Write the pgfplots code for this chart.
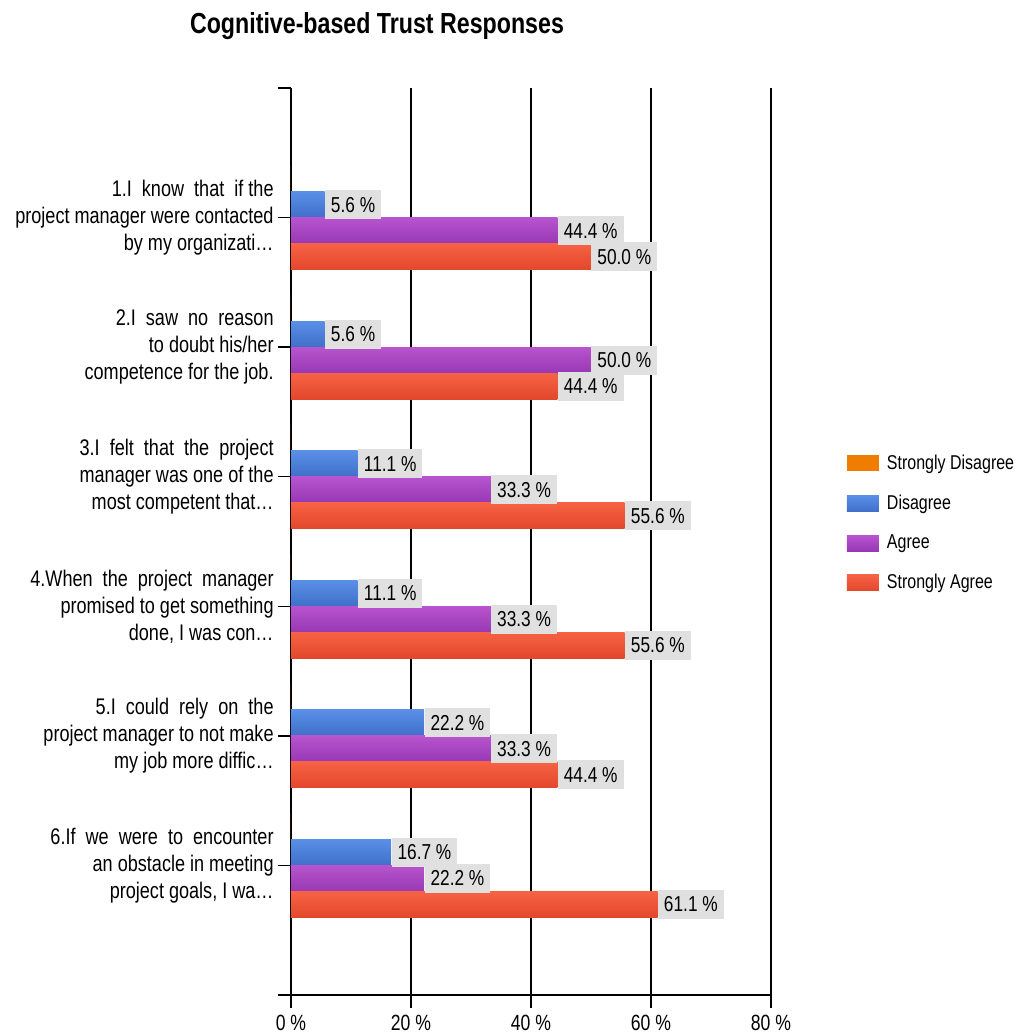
\documentclass[border=0pt]{standalone}
\usepackage{fontspec}
\setmainfont{Liberation Sans}[FakeStretch=0.8]
\usepackage{pgfplots}
\pgfplotsset{compat=1.18}
\definecolor{sdcol}{HTML}{F07C00}
\definecolor{dtop}{HTML}{5A8FE8}
\definecolor{dbot}{HTML}{3F6FC9}
\definecolor{atop}{HTML}{B754CE}
\definecolor{abot}{HTML}{9838B4}
\definecolor{stop}{HTML}{F76244}
\definecolor{sbot}{HTML}{E2472C}
\definecolor{lblgray}{HTML}{E0E0E0}
\pgfplotsset{
  lbl/.style={nodes near coords={\pgfmathprintnumber[fixed,precision=1,fixed zerofill,assume math mode=true]{\pgfplotspointmeta}\hspace{0.22em}\%}},
  dser/.style={draw=none, top color=dtop, bottom color=dbot, bar shift=6.5pt, lbl},
  aser/.style={draw=none, top color=atop, bottom color=abot, bar shift=-6.5pt, lbl},
  sser/.style={draw=none, top color=stop, bottom color=sbot, bar shift=-19.5pt, lbl},
}
\begin{document}
\begin{tikzpicture}
\path[use as bounding box] (-145.5pt,-20.5pt) rectangle (365pt,497.5pt);
\begin{axis}[
  at={(0pt,0pt)}, anchor=south west,
  scale only axis, width=240pt, height=453.5pt,
  xbar, bar width=13pt,
  xmin=0, xmax=80, ymin=0, ymax=7,
  xtick={0,20,40,60,80},
  xticklabels={0\hspace{0.22em}\%,20\hspace{0.22em}\%,40\hspace{0.22em}\%,60\hspace{0.22em}\%,80\hspace{0.22em}\%},
  ytick={1,2,3,4,5,6},
  yticklabels={
    {6.If\ \ we\ \ were\ \ to\ \ encounter\\an obstacle in meeting\\project goals, I wa\ldots},
    {5.I\ \ could\ \ rely\ \ on\ \ the\\project manager to not make\\my job more diffic\ldots},
    {4.When\ \ the\ \ project\ \ manager\\promised to get something\\done, I was con\ldots},
    {3.I\ \ felt\ \ that\ \ the\ \ project\\manager was one of the\\most competent that\ldots},
    {2.I\ \ saw\ \ no\ \ reason\\to doubt his/her\\competence for the job.},
    {1.I\ \ know\ \ that\ \ if the\\project manager were contacted\\by my organizati\ldots}},
  extra y ticks={0,7}, extra y tick labels={},
  axis x line*=bottom, axis y line*=left,
  xmajorgrids, grid style={black, line width=0.7pt},
  axis line style={black, line width=0.7pt},
  every tick/.style={black, line width=0.7pt},
  tick align=outside, major tick length=6.5pt,
  yticklabel style={align=right, font=\fontsize{11.3}{13.5}\selectfont, inner xsep=2pt},
  xticklabel style={font=\fontsize{11}{12}\selectfont},
  legend style={at={(1.145,0.605)}, anchor=north west, draw=none, fill=none,
    font=\fontsize{10}{12}\selectfont, row sep=7.3pt,
    nodes={inner xsep=4pt}},
  legend cell align=left,
  legend image code/.code={\path[#1, draw=none] (0pt,-4pt) rectangle (16pt,4pt);},
  every node near coord/.append style={anchor=west, fill=lblgray, text=black,
    font=\fontsize{10.8}{12}\selectfont, inner xsep=3pt, minimum height=14.5pt},
  point meta=x,
]
\addplot[draw=none, fill=sdcol, bar shift=19.5pt] coordinates
  {(0,1) (0,2) (0,3) (0,4) (0,5) (0,6)};
\addlegendentry{Strongly Disagree}
% Disagree
\addplot[dser] coordinates {(5.6,6)};
\addlegendentry{Disagree}
\addplot[dser, forget plot] coordinates {(5.6,5)};
\addplot[dser, forget plot] coordinates {(11.1,4)};
\addplot[dser, forget plot] coordinates {(11.1,3)};
\addplot[dser, forget plot] coordinates {(22.2,2)};
\addplot[dser, forget plot] coordinates {(16.7,1)};
% Agree
\addplot[aser] coordinates {(44.4,6)};
\addlegendentry{Agree}
\addplot[aser, forget plot] coordinates {(50.0,5)};
\addplot[aser, forget plot] coordinates {(33.3,4)};
\addplot[aser, forget plot] coordinates {(33.3,3)};
\addplot[aser, forget plot] coordinates {(33.3,2)};
\addplot[aser, forget plot] coordinates {(22.2,1)};
% Strongly Agree
\addplot[sser] coordinates {(50.0,6)};
\addlegendentry{Strongly Agree}
\addplot[sser, forget plot] coordinates {(44.4,5)};
\addplot[sser, forget plot] coordinates {(55.6,4)};
\addplot[sser, forget plot] coordinates {(55.6,3)};
\addplot[sser, forget plot] coordinates {(44.4,2)};
\addplot[sser, forget plot] coordinates {(61.1,1)};
\end{axis}
\node[font=\bfseries\fontsize{14.5}{16}\selectfont] at (43pt,484.5pt) {Cognitive-based Trust Responses};
\end{tikzpicture}
\end{document}
